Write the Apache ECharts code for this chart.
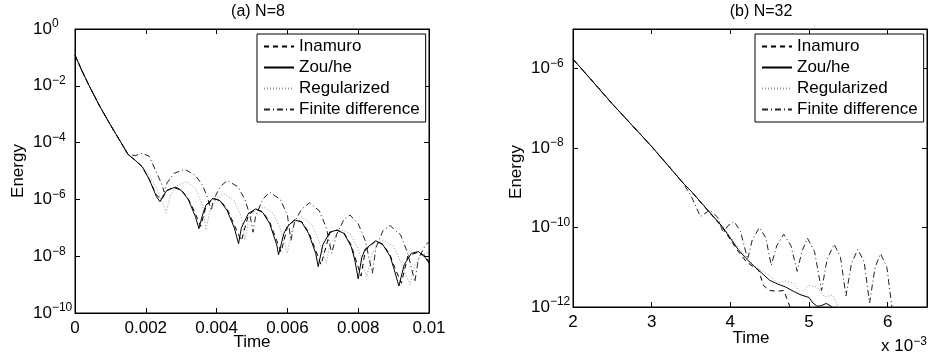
<!DOCTYPE html>
<html>
<head>
<meta charset="utf-8">
<script src="https://cdn.jsdelivr.net/npm/echarts@6/dist/echarts.min.js"></script>
<style>
  html, body { margin: 0; padding: 0; background: #fff; }
  #main { width: 929px; height: 358px; }
</style>
</head>
<body>
<div id="main"></div>
<script>
// energy decay, (a) N=8 left, (b) N=32 right (time in units of 1e-3)
const names = ['Inamuro', 'Zou/he', 'Regularized', 'Finite difference']

const leftStart = [[0, 0.12], [0.0002, 0.033], [0.0004, 0.01], [0.0007, 1.9e-3], [0.001, 4.2e-4], [0.0013, 1.0e-4], [0.0015, 3.8e-5]]

const zouLeft = leftStart.concat([
  [0.0017, 2.4e-5], [0.0019, 1.41e-5], [0.0021, 5.0e-6], [0.0023, 1.26e-6], [0.0024, 8.3e-7],
  [0.0025, 1.41e-6], [0.0026, 2.1e-6], [0.0028, 2.6e-6], [0.003, 2.1e-6], [0.0032, 1.0e-6],
  [0.0034, 2.5e-7], [0.0035, 9.3e-8], [0.0036, 2.8e-7], [0.0037, 6.3e-7], [0.0039, 1.1e-6],
  [0.0041, 8.9e-7], [0.0043, 4.0e-7], [0.0045, 1.0e-7], [0.00462, 2.75e-8], [0.0047, 1.0e-7],
  [0.0049, 3.2e-7], [0.0051, 4.6e-7], [0.0053, 3.5e-7], [0.0055, 1.41e-7], [0.0057, 2.5e-8],
  [0.00575, 1.12e-8], [0.0059, 6.3e-8], [0.006, 1.12e-7], [0.0062, 1.9e-7], [0.0064, 1.6e-7],
  [0.0066, 6.3e-8], [0.0068, 1.26e-8], [0.00687, 4.3e-9], [0.007, 2.5e-8], [0.0072, 7.1e-8],
  [0.0074, 8.3e-8], [0.0076, 6.3e-8], [0.0078, 2.2e-8], [0.0079, 7.9e-9], [0.008, 1.6e-9],
  [0.0081, 8.9e-9], [0.0082, 1.8e-8], [0.0085, 3.5e-8], [0.0087, 2.5e-8], [0.0089, 1.0e-8],
  [0.009, 4.0e-9], [0.00915, 8.9e-10], [0.0093, 5.0e-9], [0.0095, 1.26e-8], [0.0097, 1.45e-8],
  [0.0099, 8.9e-9], [0.01, 5.6e-9]
])

const inamuroLeft = leftStart.concat([
  [0.0017, 2.4e-5], [0.0019, 1.41e-5], [0.0021, 5.0e-6], [0.0023, 1.41e-6], [0.00245, 1.0e-6],
  [0.0026, 2.0e-6], [0.0028, 2.8e-6], [0.003, 2.2e-6], [0.0032, 1.05e-6], [0.0034, 3.2e-7],
  [0.00355, 1.12e-7], [0.0037, 5.6e-7], [0.0039, 1.07e-6], [0.0041, 9.3e-7], [0.0043, 4.5e-7],
  [0.0045, 1.26e-7], [0.0047, 3.5e-8], [0.0049, 2.8e-7], [0.0051, 4.5e-7], [0.0053, 3.7e-7],
  [0.0055, 1.6e-7], [0.0057, 3.5e-8], [0.00582, 1.41e-8], [0.006, 1.05e-7], [0.0062, 1.86e-7],
  [0.0064, 1.66e-7], [0.0066, 7.1e-8], [0.0068, 1.6e-8], [0.00695, 5.0e-9], [0.0072, 6.8e-8],
  [0.0074, 8.3e-8], [0.0076, 6.6e-8], [0.0078, 2.5e-8], [0.0079, 1.0e-8], [0.00808, 2.0e-9],
  [0.0082, 1.6e-8], [0.0085, 3.5e-8], [0.0087, 2.6e-8], [0.0089, 1.12e-8], [0.009, 5.0e-9],
  [0.00922, 1.12e-9], [0.0094, 1.0e-8], [0.0097, 1.41e-8], [0.0099, 1.0e-8], [0.01, 6.3e-9]
])

const regLeft = leftStart.concat([
  [0.0017, 2.4e-5], [0.0019, 1.41e-5], [0.0021, 7.1e-6], [0.0023, 2.5e-6], [0.0025, 6.3e-7],
  [0.00257, 3.4e-7], [0.0027, 1.41e-6], [0.0029, 3.2e-6], [0.00315, 4.2e-6], [0.0034, 2.5e-6],
  [0.0036, 6.3e-7], [0.0037, 8.3e-8], [0.0038, 3.5e-7], [0.004, 1.12e-6], [0.0042, 1.6e-6],
  [0.0045, 8.9e-7], [0.0047, 2.5e-7], [0.0048, 3.7e-8], [0.0049, 1.6e-7], [0.0051, 4.5e-7],
  [0.00532, 5.5e-7], [0.0056, 3.2e-7], [0.0058, 8.9e-8], [0.006, 1.26e-8], [0.0061, 6.3e-8],
  [0.0062, 1.41e-7], [0.0064, 2.45e-7], [0.0067, 1.26e-7], [0.0069, 3.2e-8], [0.0071, 5.6e-9],
  [0.0072, 2.5e-8], [0.0074, 6.3e-8], [0.00758, 8.3e-8], [0.0078, 5.6e-8], [0.008, 1.8e-8],
  [0.00824, 1.9e-9], [0.0084, 1.26e-8], [0.0086, 3.2e-8], [0.00871, 3.7e-8], [0.009, 2.2e-8],
  [0.0092, 6.3e-9], [0.00946, 9.8e-10], [0.0096, 5.0e-9], [0.0098, 1.12e-8], [0.01, 1.41e-8]
])

const fdLeft = leftStart.concat([
  [0.0017, 3.5e-5], [0.0019, 4.2e-5], [0.0021, 3.3e-5], [0.0023, 8.9e-6], [0.00245, 3.5e-6],
  [0.00252, 1.8e-6], [0.0026, 3.8e-6], [0.0028, 8.3e-6], [0.0031, 1.15e-5], [0.0034, 7.0e-6],
  [0.0036, 3.2e-6], [0.00375, 1.1e-6], [0.00385, 4.0e-7], [0.0039, 8.9e-7], [0.0041, 2.8e-6],
  [0.0043, 4.6e-6], [0.0046, 2.8e-6], [0.0048, 1.0e-6], [0.00495, 2.5e-7], [0.00503, 7.0e-8],
  [0.0051, 2.5e-7], [0.0053, 1.0e-6], [0.0055, 1.8e-6], [0.0058, 1.0e-6], [0.006, 2.8e-7],
  [0.0061, 3.5e-8], [0.0062, 1.6e-7], [0.0064, 4.5e-7], [0.00662, 7.6e-7], [0.0069, 4.0e-7],
  [0.0071, 1.0e-7], [0.00725, 1.26e-8], [0.0074, 6.3e-8], [0.0076, 2.0e-7], [0.00777, 2.8e-7],
  [0.008, 1.4e-7], [0.0082, 3.5e-8], [0.0084, 2.5e-9], [0.0085, 2.0e-8], [0.0087, 7.9e-8],
  [0.0089, 1.2e-7], [0.0092, 5.6e-8], [0.0094, 1.26e-8], [0.0096, 1.26e-9], [0.0097, 7.9e-9],
  [0.0099, 2.5e-8], [0.01, 3.2e-8]
])

const rightStart = [[2.0, 1.75e-6], [2.5, 1.3e-7], [3.0, 1.1e-8], [3.4, 1.32e-9]]

const zouRight = rightStart.concat([
  [3.5, 8.3e-10], [3.9, 1.05e-10], [4.1, 2.8e-11], [4.2, 1.66e-11], [4.3, 1.07e-11],
  [4.4, 7.1e-12], [4.5, 4.7e-12], [4.6, 3.8e-12], [4.7, 3.2e-12], [4.8, 2.5e-12],
  [4.9, 2.0e-12], [5.0, 1.74e-12], [5.05, 1.26e-12], [5.1, 1.05e-12], [5.15, 1.07e-12],
  [5.22, 1.23e-12], [5.28, 1.05e-12], [5.35, 7.1e-13], [5.5, 4.0e-13]
])

const inamuroRight = rightStart.concat([
  [3.5, 8.3e-10], [3.9, 1.0e-10], [4.0, 5.0e-11], [4.1, 2.5e-11], [4.2, 1.41e-11],
  [4.3, 1.0e-11], [4.36, 8.5e-12], [4.42, 3.5e-12], [4.5, 2.6e-12], [4.6, 2.5e-12],
  [4.68, 2.6e-12], [4.73, 1.41e-12], [4.78, 7.9e-13]
])

const regRight = rightStart.concat([
  [3.5, 8.3e-10], [3.9, 1.05e-10], [4.2, 1.8e-11], [4.3, 1.12e-11], [4.4, 7.9e-12],
  [4.5, 6.3e-12], [4.6, 4.0e-12], [4.7, 4.5e-12], [4.8, 4.0e-12], [4.9, 2.2e-12],
  [5.0, 3.5e-12], [5.1, 3.2e-12], [5.2, 1.8e-12], [5.3, 2.0e-12], [5.4, 7.9e-13]
])

const fdRight = rightStart.concat([
  [3.5, 6.3e-10], [3.62, 1.9e-10], [3.74, 2.75e-10], [3.84, 1.8e-10], [3.91, 7.4e-11],
  [3.97, 1.12e-10], [4.05, 1.41e-10], [4.13, 7.9e-11], [4.22, 1.6e-11], [4.28, 5.0e-11],
  [4.37, 1.0e-10], [4.45, 5.6e-11], [4.52, 1.12e-11], [4.59, 3.5e-11], [4.68, 6.8e-11],
  [4.77, 3.5e-11], [4.85, 7.9e-12], [4.91, 2.5e-11], [4.98, 5.4e-11], [5.07, 2.5e-11],
  [5.16, 2.6e-12], [5.23, 1.6e-11], [5.32, 3.8e-11], [5.4, 1.8e-11], [5.47, 1.9e-12],
  [5.54, 1.26e-11], [5.62, 2.8e-11], [5.7, 1.41e-11], [5.77, 1.26e-12], [5.84, 1.0e-11],
  [5.91, 2.2e-11], [5.99, 1.0e-11], [6.06, 7.9e-13]
])

const font = 'Liberation Sans, Arial, Helvetica, sans-serif'
const styles = {
  'Inamuro': { color: '#000', width: 1, type: [5, 4] },
  'Zou/he': { color: '#000', width: 1, type: 'solid' },
  'Regularized': { color: '#999', width: 1, type: [1, 2] },
  'Finite difference': { color: '#222', width: 1, type: [6, 3, 1, 3] }
}

function logLabel (v) {
  let e = Math.round(Math.log10(v))
  return '{b|10}{e|' + (e < 0 ? '\u2212' + (-e) : e) + '}'
}
const richLog = {
  b: { fontSize: 17, fontFamily: font, color: '#000', lineHeight: 22, verticalAlign: 'middle' },
  e: { fontSize: 12, fontFamily: font, color: '#000', lineHeight: 12, verticalAlign: 'top' }
}

function xAx (grid, pos, min, max, interval, show) {
  return {
    type: 'value', gridIndex: grid, position: pos, min: min, max: max, interval: interval,
    axisLine: { show: true, onZero: false, lineStyle: { color: '#000', width: 1 } },
    axisTick: { show: true, inside: true, length: 5, lineStyle: { color: '#000' } },
    axisLabel: { show: show, fontSize: 17, fontFamily: font, color: '#000', margin: 7, showMaxLabel: grid === 0 },
    splitLine: { show: false }
  }
}
function yAx (grid, pos, min, max, show) {
  return {
    type: 'log', logBase: 10, gridIndex: grid, position: pos, min: min, max: max, interval: 2,
    axisLine: { show: true, onZero: false, lineStyle: { color: '#000', width: 1 } },
    axisTick: { show: true, inside: true, length: 5, lineStyle: { color: '#000' } },
    axisLabel: { show: show, align: 'left', margin: 42, formatter: logLabel, rich: richLog, showMaxLabel: grid === 0 },
    splitLine: { show: false }, minorTick: { show: false }
  }
}

function mk (name, data, axis) {
  return {
    name: name, type: 'line', data: data, xAxisIndex: axis, yAxisIndex: axis,
    symbol: 'none', lineStyle: styles[name], itemStyle: { color: styles[name].color },
    clip: true, z: name === 'Zou/he' ? 4 : 3
  }
}

function legendAt (left) {
  return {
    data: names, orient: 'vertical', left: left, top: 34,
    itemWidth: 30, itemHeight: 14, itemGap: 2, padding: [3, 6, 3, 6],
    borderColor: '#000', borderWidth: 1, backgroundColor: '#fff', borderRadius: 0,
    itemStyle: { opacity: 0 }, lineStyle: { opacity: 1 },
    textStyle: { fontSize: 17, fontFamily: font, color: '#000', lineHeight: 19 },
    selectedMode: false
  }
}

let chart = echarts.init(document.getElementById('main'))
chart.setOption({
  animation: false,
  backgroundColor: '#fff',
  grid: [
    { left: 75, top: 29, width: 354, height: 284, show: true, borderColor: '#000', borderWidth: 1, backgroundColor: 'transparent' },
    { left: 573, top: 29, width: 354, height: 278, show: true, borderColor: '#000', borderWidth: 1, backgroundColor: 'transparent' }
  ],
  xAxis: [
    xAx(0, 'bottom', 0, 0.01, 0.002, true),
    xAx(1, 'bottom', 2, 6.5, 1, true),
    xAx(0, 'top', 0, 0.01, 0.002, false),
    xAx(1, 'top', 2, 6.5, 1, false)
  ],
  yAxis: [
    yAx(0, 'left', 1e-10, 1, true),
    yAx(1, 'left', 1e-12, 1e-5, true),
    yAx(0, 'right', 1e-10, 1, false),
    yAx(1, 'right', 1e-12, 1e-5, false)
  ],
  legend: [legendAt(257), legendAt(755)],
  series: [
    mk('Regularized', regLeft, 0), mk('Finite difference', fdLeft, 0),
    mk('Inamuro', inamuroLeft, 0), mk('Zou/he', zouLeft, 0),
    mk('Regularized', regRight, 1), mk('Finite difference', fdRight, 1),
    mk('Inamuro', inamuroRight, 1), mk('Zou/he', zouRight, 1)
  ],
  graphic: [
    { type: 'text', x: 258, y: 12, style: { text: '(a) N=8', fontSize: 16, fontFamily: font, fill: '#000', align: 'center', verticalAlign: 'middle' } },
    { type: 'text', x: 761, y: 12, style: { text: '(b) N=32', fontSize: 16, fontFamily: font, fill: '#000', align: 'center', verticalAlign: 'middle' } },
    { type: 'text', x: 18, y: 171, rotation: Math.PI / 2, style: { text: 'Energy', fontSize: 17, fontFamily: font, fill: '#000', align: 'center', verticalAlign: 'middle' } },
    { type: 'text', x: 516, y: 172, rotation: Math.PI / 2, style: { text: 'Energy', fontSize: 17, fontFamily: font, fill: '#000', align: 'center', verticalAlign: 'middle' } },
    { type: 'text', x: 252, y: 342, style: { text: 'Time', fontSize: 17, fontFamily: font, fill: '#000', align: 'center', verticalAlign: 'middle' } },
    { type: 'text', x: 751, y: 338, style: { text: 'Time', fontSize: 17, fontFamily: font, fill: '#000', align: 'center', verticalAlign: 'middle' } },
    { type: 'text', x: 881, y: 346, style: {
      text: '{b|x 10}{e|\u22123}', verticalAlign: 'middle',
      rich: {
        b: { fontSize: 17, fontFamily: font, fill: '#000', lineHeight: 20, verticalAlign: 'middle' },
        e: { fontSize: 12, fontFamily: font, fill: '#000', lineHeight: 12, verticalAlign: 'top' }
      }
    } }
  ]
})
</script>
</body>
</html>
